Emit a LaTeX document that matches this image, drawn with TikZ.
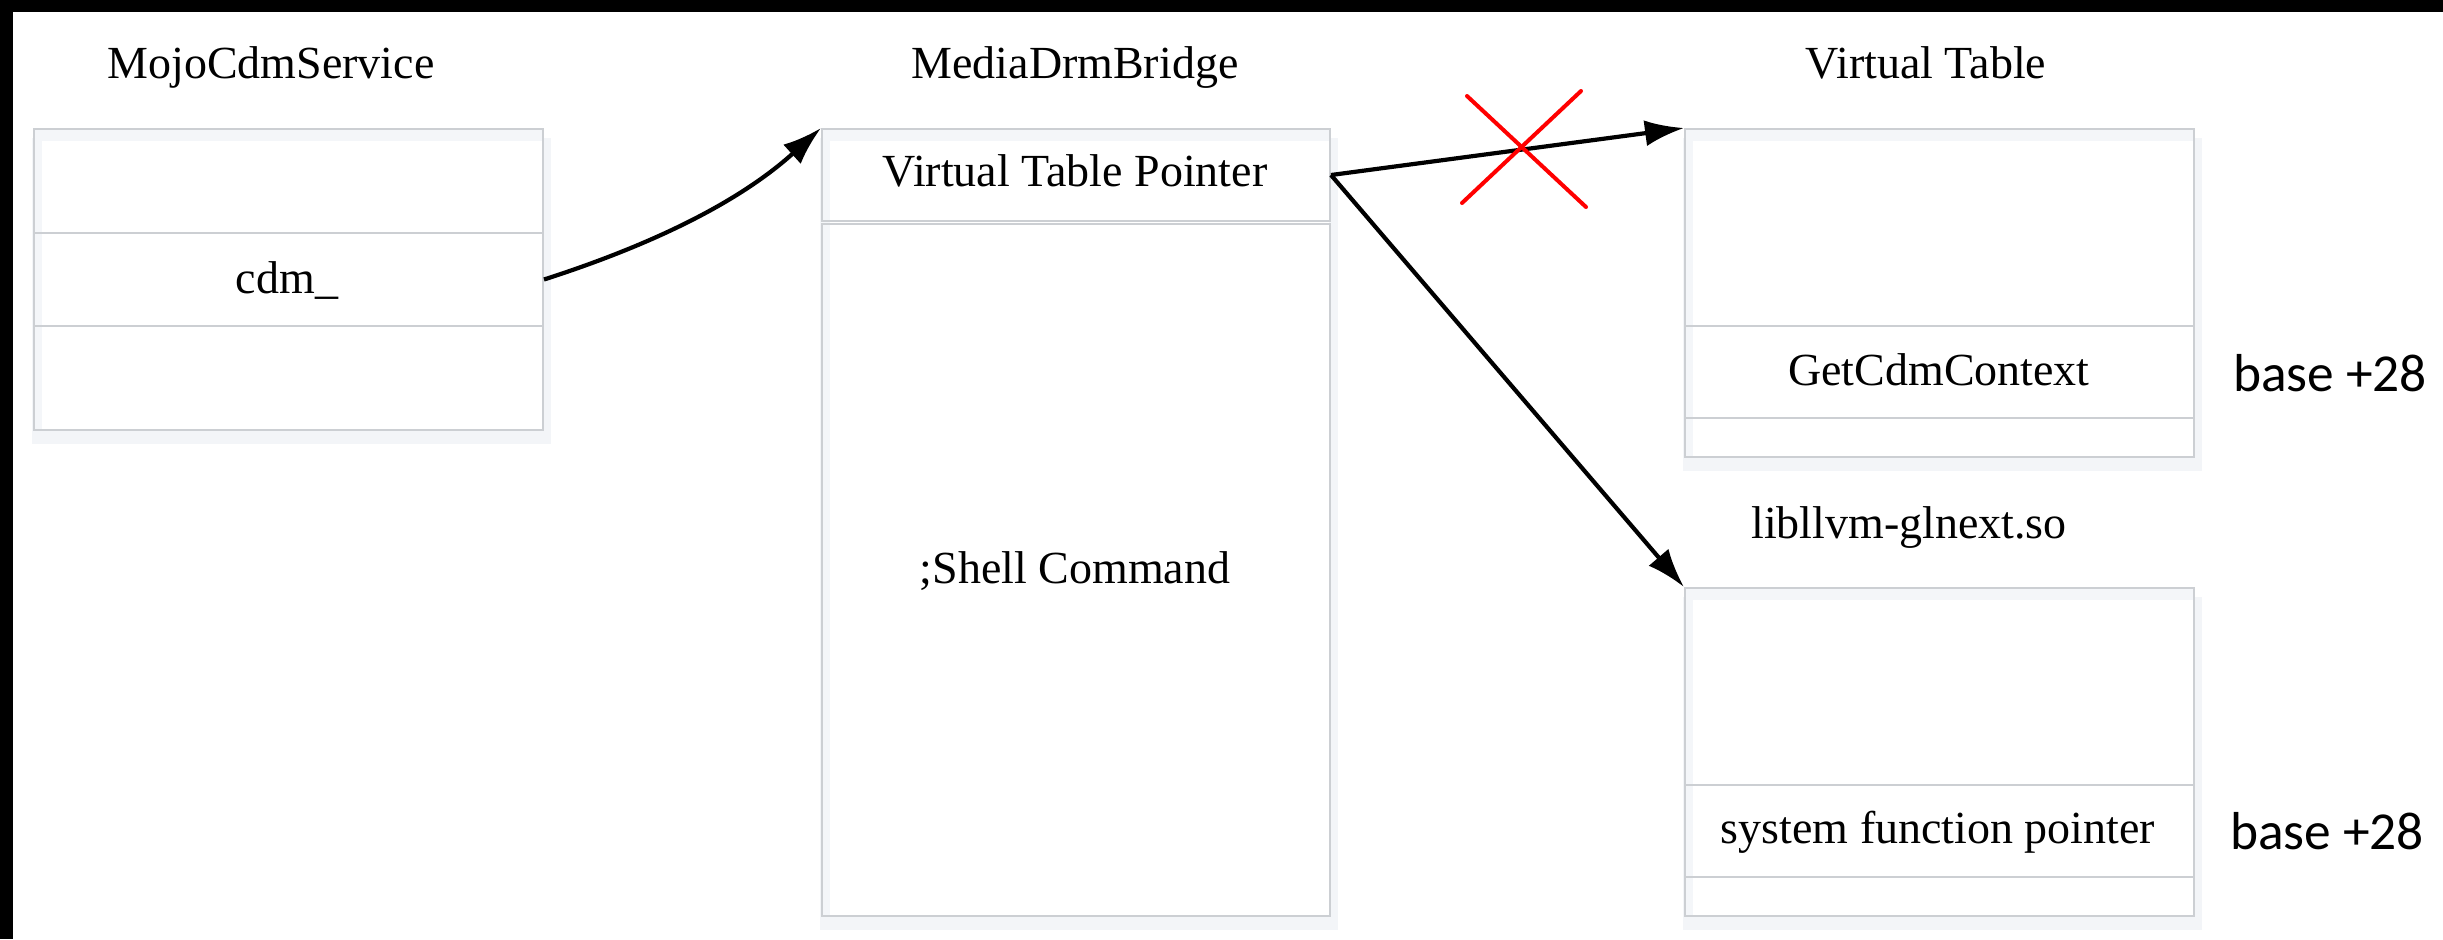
\documentclass[tikz,border=0pt]{standalone}
\usepackage{fontspec}
\setmainfont{Liberation Serif}
\newfontfamily\basefont{Carlito}
\usetikzlibrary{arrows.meta}
\definecolor{bordergray}{HTML}{CCCFD3}
\definecolor{shadowc}{HTML}{F3F5F8}
\definecolor{innerc}{HTML}{F4F6F9}
\newcommand\boxbg[4]{%
  \fill[shadowc] (#1-1,#2+10) rectangle (#3+9,#4+15);
  \fill[white] (#1,#2) rectangle (#3,#4);
  \fill[innerc] (#1,#2) rectangle (#3,#2+13);
  \fill[innerc] (#1,#2) rectangle (#1+9,#4);
}
\begin{document}
\begin{tikzpicture}[x=0.1mm,y=-0.1mm,
  cell/.style={draw=bordergray, line width=0.2mm, rectangle, inner sep=0pt, anchor=north west},
  lbl/.style={font=\fontsize{13.08pt}{15pt}\selectfont, inner sep=0pt, anchor=base},
  note/.style={font=\basefont\fontsize{15.2pt}{18pt}\selectfont, inner sep=0pt, anchor=base},
  ptr/.style={line width=0.42mm, -{Latex[length=3.9mm,width=2.6mm]}},
  cross/.style={red, line width=0.4mm, line cap=round}]
\useasboundingbox (0,0) rectangle (2443,939);
\fill[white] (0,0) rectangle (2443,939);
\fill[black] (0,0) rectangle (2443,12);
\fill[black] (0,0) rectangle (13,939);

% backgrounds
\boxbg{33}{128}{542}{429}
\boxbg{821}{128}{1329}{915}
\boxbg{1684}{128}{2193}{456}
\boxbg{1684}{587}{2193}{915}

% MojoCdmService
\node[cell, minimum width=50.9mm, minimum height=10.4mm] (m1) at (33,128) {};
\node[cell, minimum width=50.9mm, minimum height=9.3mm] (m2) at (33,232) {};
\node[cell, minimum width=50.9mm, minimum height=10.4mm] (m3) at (33,325) {};

% MediaDrmBridge
\node[cell, minimum width=50.8mm, minimum height=9.2mm] (v1) at (821,128) {};
\node[cell, minimum width=50.8mm, minimum height=69.2mm] (v2) at (821,223) {};

% Virtual Table
\node[cell, minimum width=50.9mm, minimum height=19.7mm] (t1) at (1684,128) {};
\node[cell, minimum width=50.9mm, minimum height=9.2mm] (t2) at (1684,325) {};
\node[cell, minimum width=50.9mm, minimum height=3.9mm] (t3) at (1684,417) {};

% libllvm-glnext.so
\node[cell, minimum width=50.9mm, minimum height=19.7mm] (s1) at (1684,587) {};
\node[cell, minimum width=50.9mm, minimum height=9.2mm] (s2) at (1684,784) {};
\node[cell, minimum width=50.9mm, minimum height=3.9mm] (s3) at (1684,876) {};

% titles and texts
\node[lbl] (tMojo) at (271,78) {MojoCdmService};
\node[lbl] (tMdb) at (1075,78) {MediaDrmBridge};
\node[lbl] (tVt) at (1926,78) {Virtual Table};
\node[lbl] (tLib) at (1909,538) {libllvm-glnext.so};
\node[lbl] (lCdm) at (287,293) {cdm\_};
\node[lbl] (lVtp) at (1075,186) {Virtual Table Pointer};
\node[lbl] (lShell) at (1075,583) {;Shell Command};
\node[lbl] (lGet) at (1939,385) {GetCdmContext};
\node[lbl] (lSys) at (1938,843) {system function pointer};
\node[note] (nB1) at (2330,391) {base +28};
\node[note] (nB2) at (2327,849) {base +28};

% connectors
\draw[ptr] (m2.east) .. controls (648,246) and (737,204) .. (v1.north west);
\draw[ptr] (v1.east) -- (t1.north west);
\draw[ptr] (v1.east) -- (s1.north west);

% red cross
\draw[cross] (1467,96) -- (1586,207);
\draw[cross] (1581,91) -- (1462,203);
\end{tikzpicture}
\end{document}
